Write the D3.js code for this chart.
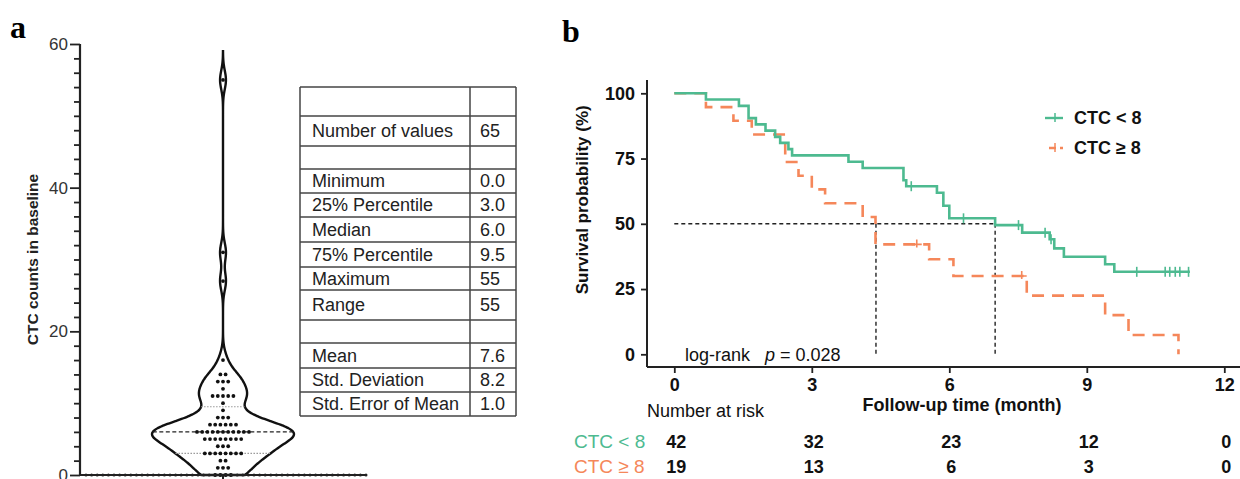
<!DOCTYPE html>
<html>
<head>
<meta charset="utf-8">
<script src="https://cdn.jsdelivr.net/npm/d3@7"></script>
<style>
  body { margin: 0; background: #fff; }
  svg { display: block; font-family: "Liberation Sans", Arial, sans-serif; }
</style>
</head>
<body>
<div id="chart"></div>
<script>
// ---- panel a: baseline CTC counts (value -> number of patients) ----
const ctcValues = [0, 1, 2, 3, 4, 5, 6, 7, 8, 9, 10, 11, 12, 13, 14, 16, 27, 31, 55];
const ctcCounts = [4, 3, 2, 8, 3, 8, 11, 6, 3, 1, 1, 5, 1, 3, 2, 1, 1, 1, 1];
const ctcMedian = 6, ctcQ1 = 3, ctcQ3 = 9.5;

const statLabels = ["", "Number of values", "", "Minimum", "25% Percentile", "Median",
  "75% Percentile", "Maximum", "Range", "", "Mean", "Std. Deviation", "Std. Error of Mean"];
const statValues = ["", "65", "", "0.0", "3.0", "6.0", "9.5", "55", "55", "", "7.6", "8.2", "1.0"];

// ---- panel b: Kaplan-Meier steps (months, survival %) ----
const lowTimes = [0, 0.69, 1.41, 1.62, 1.78, 1.99, 2.20, 2.31, 2.49, 2.57, 3.80, 4.11, 5.00, 5.06,
  5.73, 5.87, 6.00, 7.00, 7.59, 8.19, 8.29, 8.50, 9.40, 9.60, 11.25];
const lowSurv = [100, 97.6, 95.2, 90.5, 88.1, 85.7, 83.3, 81.0, 78.6, 76.2, 73.8, 71.4, 66.7, 64.4,
  61.9, 56.9, 52.1, 49.5, 46.6, 44.1, 40.6, 37.4, 34.5, 31.6, 31.6];
const lowCensor = [5.17, 6.31, 7.51, 8.09, 8.22, 10.09, 10.71, 10.81, 10.93, 11.03, 11.22];

const highTimes = [0, 0.69, 1.29, 1.69, 2.42, 2.71, 3.00, 3.29, 4.11, 4.39, 5.56, 6.09, 7.69, 9.40, 9.91, 11.0];
const highSurv = [100, 94.7, 89.5, 84.2, 73.7, 68.4, 63.2, 57.9, 52.6, 42.1, 36.4, 30.0, 22.5, 15.0, 7.4, 0];
const highCensor = [5.29, 7.58];

const medianLow = 7.0, medianHigh = 4.4;

const riskTimes = [0, 3, 6, 9, 12];
const riskLow = [42, 32, 23, 12, 0];
const riskHigh = [19, 13, 6, 3, 0];

const green = "#4dba90", orange = "#f5875a";

const svg = d3.select("#chart").append("svg")
  .attr("width", 1240).attr("height", 479);

// ================= panel a =================
svg.append("text").attr("x", 10).attr("y", 38)
  .style("font-family", "'Liberation Serif', serif").style("font-weight", "bold")
  .style("font-size", "32px").text("a");

const ya = d3.scaleLinear().domain([0, 60]).range([475, 44]);
const cx = 223;

const gya = svg.append("g").attr("transform", "translate(80,0)")
  .call(d3.axisLeft(ya).tickValues(d3.range(0, 61, 2))
    .tickFormat(d => d % 20 === 0 ? d : ""));
gya.select(".domain").remove();
gya.selectAll(".tick line").attr("x2", d => d % 20 === 0 ? -10 : -6)
  .attr("stroke", "#222").attr("stroke-width", 1.8);
gya.selectAll(".tick text").attr("x", -12).style("font-size", "17px").attr("fill", "#333");
svg.append("line").attr("x1", 80).attr("x2", 80).attr("y1", ya(60)).attr("y2", ya(0))
  .attr("stroke", "#222").attr("stroke-width", 2.2);

svg.append("text")
  .attr("transform", `translate(38,${(ya(0) + ya(60)) / 2}) rotate(-90)`)
  .attr("text-anchor", "middle").style("font-weight", "bold").style("font-size", "15.5px")
  .attr("fill", "#222").text("CTC counts in baseline");

// kernel density for the violin outline
const samples = ctcValues.flatMap((v, i) => d3.range(ctcCounts[i]).map(() => v));
const bw = 1.3;
const kde = t => d3.sum(samples, s => Math.exp(-0.5 * ((t - s) / bw) ** 2));
const grid = d3.range(0, 59.01, 0.1);
const dens = grid.map(t => [t, kde(t)]);
const wScale = d3.scaleLinear().domain([0, d3.max(dens, d => d[1])]).range([0, 71]);

const violin = d3.area()
  .x0(d => cx - wScale(d[1])).x1(d => cx + wScale(d[1]))
  .y(d => ya(d[0])).curve(d3.curveBasis);
svg.append("path").datum(dens).attr("d", violin)
  .attr("fill", "none").attr("stroke", "#111").attr("stroke-width", 2.4);

// median and quartile lines
const dAt = v => wScale(kde(v));
svg.append("line").attr("x1", cx - dAt(ctcMedian)).attr("x2", cx + dAt(ctcMedian))
  .attr("y1", ya(ctcMedian)).attr("y2", ya(ctcMedian))
  .attr("stroke", "#222").attr("stroke-width", 1.2).attr("stroke-dasharray", "4,2.5");
[ctcQ1, ctcQ3].forEach(q => {
  svg.append("line").attr("x1", cx - dAt(q)).attr("x2", cx + dAt(q))
    .attr("y1", ya(q)).attr("y2", ya(q))
    .attr("stroke", "#999").attr("stroke-width", 1.2).attr("stroke-dasharray", "1.5,1.5");
});

// dots
const dots = ctcValues.flatMap((v, i) =>
  d3.range(ctcCounts[i]).map(j => ({ v, off: (j - (ctcCounts[i] - 1) / 2) * 5.2 })));
svg.append("g").selectAll("circle").data(dots).join("circle")
  .attr("cx", d => cx + d.off).attr("cy", d => ya(d.v)).attr("r", 1.9).attr("fill", "#111");

// x baseline
svg.append("line").attr("x1", 80).attr("x2", 367).attr("y1", ya(0)).attr("y2", ya(0))
  .attr("stroke", "#222").attr("stroke-width", 2);
svg.append("g").selectAll("circle").data(d3.range(86, 367, 5.6)).join("circle")
  .attr("cx", d => d).attr("cy", ya(0)).attr("r", 1.5).attr("fill", "#222");
svg.append("line").attr("x1", cx).attr("x2", cx).attr("y1", ya(0)).attr("y2", 479)
  .attr("stroke", "#222").attr("stroke-width", 2);

// summary table
const rowHeights = [29, 30, 23, 24, 24, 25, 25, 23, 30, 23, 25, 24, 24];
const tX0 = 300, tX1 = 470, tX2 = 516, tY0 = 87;
const rowTops = rowHeights.reduce((a, h) => (a.push(a[a.length - 1] + h), a), [tY0]);
const tbl = svg.append("g");
tbl.selectAll("line.h").data(rowTops).join("line")
  .attr("x1", tX0).attr("x2", tX2).attr("y1", d => d).attr("y2", d => d)
  .attr("stroke", "#444").attr("stroke-width", 1.5);
[tX0, tX1, tX2].forEach(x => tbl.append("line").attr("x1", x).attr("x2", x)
  .attr("y1", tY0).attr("y2", rowTops[rowTops.length - 1])
  .attr("stroke", "#444").attr("stroke-width", 1.5));
tbl.selectAll("text.l").data(statLabels).join("text")
  .attr("x", tX0 + 12).attr("y", (d, i) => (rowTops[i] + rowTops[i + 1]) / 2 + 6)
  .style("font-size", "18px").attr("fill", "#222").text(d => d);
tbl.selectAll("text.v").data(statValues).join("text")
  .attr("x", tX1 + 10).attr("y", (d, i) => (rowTops[i] + rowTops[i + 1]) / 2 + 6)
  .style("font-size", "18px").attr("fill", "#222").text(d => d);

// ================= panel b =================
svg.append("text").attr("x", 562).attr("y", 42)
  .style("font-family", "'Liberation Serif', serif").style("font-weight", "bold")
  .style("font-size", "32px").text("b");

const xb = d3.scaleLinear().domain([0, 12]).range([674.3, 1224.3]);
const yb = d3.scaleLinear().domain([0, 100]).range([354.3, 93.3]);
const axX = 647, axY = 367;

const gyb = svg.append("g").attr("transform", `translate(${axX},0)`)
  .call(d3.axisLeft(yb).tickValues([0, 25, 50, 75, 100]).tickSize(6).tickPadding(6));
gyb.select(".domain").remove();
gyb.selectAll(".tick line").attr("stroke", "#222").attr("stroke-width", 1.8);
gyb.selectAll(".tick text").style("font-size", "18px").style("font-weight", "bold").attr("fill", "#111");
svg.append("line").attr("x1", axX).attr("x2", axX).attr("y1", 80).attr("y2", axY)
  .attr("stroke", "#222").attr("stroke-width", 2);

const gxb = svg.append("g").attr("transform", `translate(0,${axY})`)
  .call(d3.axisBottom(xb).tickValues(riskTimes).tickSize(6).tickPadding(5));
gxb.select(".domain").remove();
gxb.selectAll(".tick line").attr("stroke", "#222").attr("stroke-width", 1.8);
gxb.selectAll(".tick text").style("font-size", "18px").style("font-weight", "bold").attr("fill", "#111");
svg.append("line").attr("x1", axX).attr("x2", 1240).attr("y1", axY).attr("y2", axY)
  .attr("stroke", "#222").attr("stroke-width", 2);

svg.append("text")
  .attr("transform", `translate(588,${yb(50) - 24}) rotate(-90)`)
  .attr("text-anchor", "middle").style("font-weight", "bold").style("font-size", "17px")
  .attr("fill", "#111").text("Survival probability (%)");
svg.append("text").attr("x", 962).attr("y", 411).attr("text-anchor", "middle")
  .style("font-weight", "bold").style("font-size", "18px").attr("fill", "#111")
  .text("Follow-up time (month)");

// median reference lines
const medG = svg.append("g").attr("stroke", "#222").attr("stroke-width", 1.4)
  .attr("stroke-dasharray", "4,3");
medG.append("line").attr("x1", xb(0)).attr("x2", xb(medianLow)).attr("y1", yb(50)).attr("y2", yb(50));
[medianHigh, medianLow].forEach(m => medG.append("line")
  .attr("x1", xb(m)).attr("x2", xb(m)).attr("y1", yb(50)).attr("y2", yb(0)));

// curves
const step = d3.line().x(d => xb(d[0])).y(d => yb(d[1])).curve(d3.curveStepAfter);
const survAt = (times, surv, t) => surv[d3.bisectRight(times, t) - 1];

svg.append("path").datum(d3.zip(highTimes, highSurv)).attr("d", step)
  .attr("fill", "none").attr("stroke", orange).attr("stroke-width", 2.6)
  .attr("stroke-dasharray", "12,8");
svg.append("path").datum(d3.zip(lowTimes, lowSurv)).attr("d", step)
  .attr("fill", "none").attr("stroke", green).attr("stroke-width", 2.6);

svg.append("g").selectAll("path").data(lowCensor).join("path")
  .attr("d", t => {
    const x = xb(t), y = yb(survAt(lowTimes, lowSurv, t));
    return `M${x},${y - 5}V${y + 5}`;
  })
  .attr("stroke", green).attr("stroke-width", 1.6);
svg.append("g").selectAll("path").data(highCensor).join("path")
  .attr("d", t => {
    const x = xb(t), y = yb(survAt(highTimes, highSurv, t));
    return `M${x},${y - 5}V${y + 3}M${x - 5},${y}H${x + 5}`;
  })
  .attr("stroke", orange).attr("stroke-width", 1.6).attr("fill", "none");

svg.append("text").attr("x", 685).attr("y", 361).style("font-size", "18px").attr("fill", "#111")
  .html('log-rank&#160;&#160;&#160;<tspan font-style="italic">p</tspan> = 0.028');

// legend
const legend = [
  { label: "CTC < 8", color: green, dash: null },
  { label: "CTC \u2265 8", color: orange, dash: "7,4" }
];
const lg = svg.append("g").selectAll("g").data(legend).join("g")
  .attr("transform", (d, i) => `translate(1045,${118 + i * 30})`);
lg.append("line").attr("x1", (d, i) => i ? 4 : 0).attr("x2", 18).attr("y1", 0).attr("y2", 0)
  .attr("stroke", d => d.color).attr("stroke-width", 2.4).attr("stroke-dasharray", d => d.dash);
lg.append("line").attr("x1", 10).attr("x2", 10).attr("y1", -5).attr("y2", 4)
  .attr("stroke", d => d.color).attr("stroke-width", 1.5);
lg.append("text").attr("x", 29).attr("y", 6).style("font-size", "18px").style("font-weight", "bold")
  .attr("fill", "#111").text(d => d.label);

// number at risk
svg.append("text").attr("x", 647).attr("y", 417).style("font-size", "18px").attr("fill", "#111")
  .text("Number at risk");
const riskRows = [
  { label: "CTC < 8", color: green, vals: riskLow, y: 448 },
  { label: "CTC \u2265 8", color: orange, vals: riskHigh, y: 473 }
];
riskRows.forEach(r => {
  svg.append("text").attr("x", 574).attr("y", r.y).style("font-size", "19px")
    .attr("fill", r.color).text(r.label);
  svg.append("g").selectAll("text").data(r.vals).join("text")
    .attr("x", (d, i) => xb(riskTimes[i]) + 2).attr("y", r.y).attr("text-anchor", "middle")
    .style("font-size", "18px").style("font-weight", "bold").attr("fill", "#111").text(d => d);
});
</script>
</body>
</html>
